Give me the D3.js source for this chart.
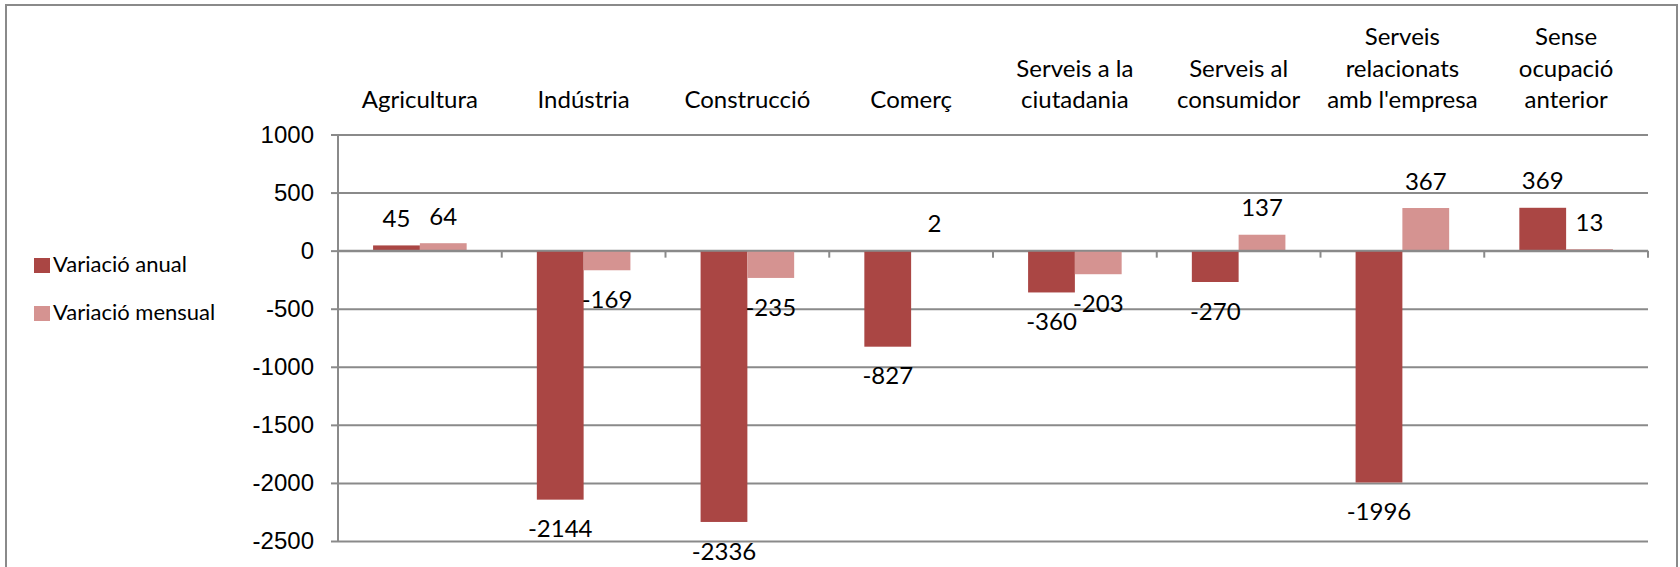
<!DOCTYPE html>
<html>
<head>
<meta charset="utf-8">
<script src="https://cdn.jsdelivr.net/npm/d3@7"></script>
<style>
  html, body { margin: 0; padding: 0; background: #fff; }
  svg { display: block; font-family: Lato, "Open Sans", sans-serif; }
  .axis path { display: none; }
  .axis line { stroke: #8a8a8a; stroke-width: 2; }
  .axis text { fill: #000; font-size: 24px; }
</style>
</head>
<body>
<div id="chart"></div>
<script>
// sectors (line breaks as in the original labels)
const categories = [
  "Agricultura",
  "Indústria",
  "Construcció",
  "Comerç",
  "Serveis a la\nciutadania",
  "Serveis al\nconsumidor",
  "Serveis\nrelacionats\namb l'empresa",
  "Sense\nocupació\nanterior",
];
const seriesNames = ["Variació anual", "Variació mensual"];
const anual = [45, -2144, -2336, -827, -360, -270, -1996, 369];
const mensual = [64, -169, -235, 2, -203, 137, 367, 13];
const yTicks = [1000, 500, 0, -500, -1000, -1500, -2000, -2500];
const colors = ["#aa4644", "#d59391"];

class BarChart {
  constructor(container) {
    this.container = d3.select(container);
    this.width = 1680;
    this.height = 567;
    this.plot = { left: 338, right: 1648, top: 134.5, bottom: 541 };
    this.init();
  }

  init() {
    this.rows = categories.map((c, i) => ({
      category: c,
      values: [anual[i], mensual[i]],
    }));

    this.x = d3
      .scaleBand()
      .domain(categories)
      .range([this.plot.left, this.plot.right]);
    this.x1 = d3
      .scaleBand()
      .domain(seriesNames)
      .range([0, this.x.bandwidth()])
      .paddingInner(0)
      .paddingOuter(0.75);
    this.y = d3
      .scaleLinear()
      .domain([-2500, 1000])
      .range([this.plot.bottom, this.plot.top]);
    this.color = d3.scaleOrdinal().domain(seriesNames).range(colors);

    this.svg = this.container
      .append("svg")
      .attr("width", this.width)
      .attr("height", this.height);

    // chart frame
    this.svg
      .append("rect")
      .attr("x", 6)
      .attr("y", 5)
      .attr("width", 1671)
      .attr("height", 600)
      .attr("fill", "none")
      .attr("stroke", "#8a8a8a")
      .attr("stroke-width", 2);

    this.render();
  }

  render() {
    const { x, x1, y, color, plot } = this;

    // gridlines + y axis
    this.svg
      .append("g")
      .attr("class", "axis y-axis")
      .attr("transform", `translate(${plot.left},0)`)
      .call(
        d3
          .axisLeft(y)
          .tickValues(yTicks)
          .tickFormat((d) => String(d))
          .tickSize(7)
          .tickPadding(17)
      )
      .call((g) =>
        g
          .selectAll(".tick")
          .append("line")
          .attr("x1", 0)
          .attr("x2", plot.right - plot.left)
      );

    this.svg
      .append("line")
      .attr("x1", plot.left)
      .attr("x2", plot.left)
      .attr("y1", plot.top)
      .attr("y2", plot.bottom)
      .attr("stroke", "#8a8a8a")
      .attr("stroke-width", 2);

    // category tick marks on the zero line
    const bounds = categories.map((c) => x(c) + x.bandwidth());
    this.svg
      .append("g")
      .selectAll("line")
      .data(bounds)
      .join("line")
      .attr("x1", (d) => d)
      .attr("x2", (d) => d)
      .attr("y1", y(0))
      .attr("y2", y(0) + 7)
      .attr("stroke", "#8a8a8a")
      .attr("stroke-width", 2);

    // bars
    const group = this.svg
      .append("g")
      .selectAll("g")
      .data(this.rows)
      .join("g")
      .attr("transform", (d) => `translate(${x(d.category)},0)`);

    const bars = group
      .selectAll("g")
      .data((d) => d.values.map((v, i) => ({ key: seriesNames[i], value: v })))
      .join("g");

    bars
      .append("rect")
      .attr("x", (d) => x1(d.key))
      .attr("width", x1.bandwidth())
      .attr("y", (d) => y(Math.max(0, d.value)))
      .attr("height", (d) => Math.abs(y(d.value) - y(0)))
      .attr("fill", (d) => color(d.key));

    bars
      .append("text")
      .attr("x", (d) => x1(d.key) + x1.bandwidth() / 2)
      .attr("y", (d) =>
        d.value >= 0 ? y(d.value) - 18.5 : y(d.value) + 37.7
      )
      .attr("text-anchor", "middle")
      .attr("font-size", 24)
      .attr("fill", "#000")
      .text((d) => d.value);

    // zero line on top of bars
    this.svg
      .append("line")
      .attr("x1", plot.left)
      .attr("x2", plot.right)
      .attr("y1", y(0))
      .attr("y2", y(0))
      .attr("stroke", "#8a8a8a")
      .attr("stroke-width", 2);

    // category labels above the plot, bottom aligned
    this.svg
      .append("g")
      .selectAll("text")
      .data(categories)
      .join("text")
      .attr("text-anchor", "middle")
      .attr("font-size", 24)
      .attr("fill", "#000")
      .each(function (c) {
        const lines = c.split("\n");
        const cx = x(c) + x.bandwidth() / 2;
        d3.select(this)
          .selectAll("tspan")
          .data(lines)
          .join("tspan")
          .attr("x", cx)
          .attr("y", (l, i) => 108 - (lines.length - 1 - i) * 31.3)
          .text((l) => l);
      });

    // legend
    const legend = this.svg
      .append("g")
      .selectAll("g")
      .data(seriesNames)
      .join("g")
      .attr("transform", (d, i) => `translate(34,${258 + i * 48})`);
    legend
      .append("rect")
      .attr("width", 16)
      .attr("height", 15)
      .attr("fill", (d) => color(d));
    legend
      .append("text")
      .attr("x", 19)
      .attr("y", 14)
      .attr("font-size", 22)
      .attr("fill", "#000")
      .text((d) => d);
  }
}

new BarChart("#chart");
</script>
</body>
</html>
